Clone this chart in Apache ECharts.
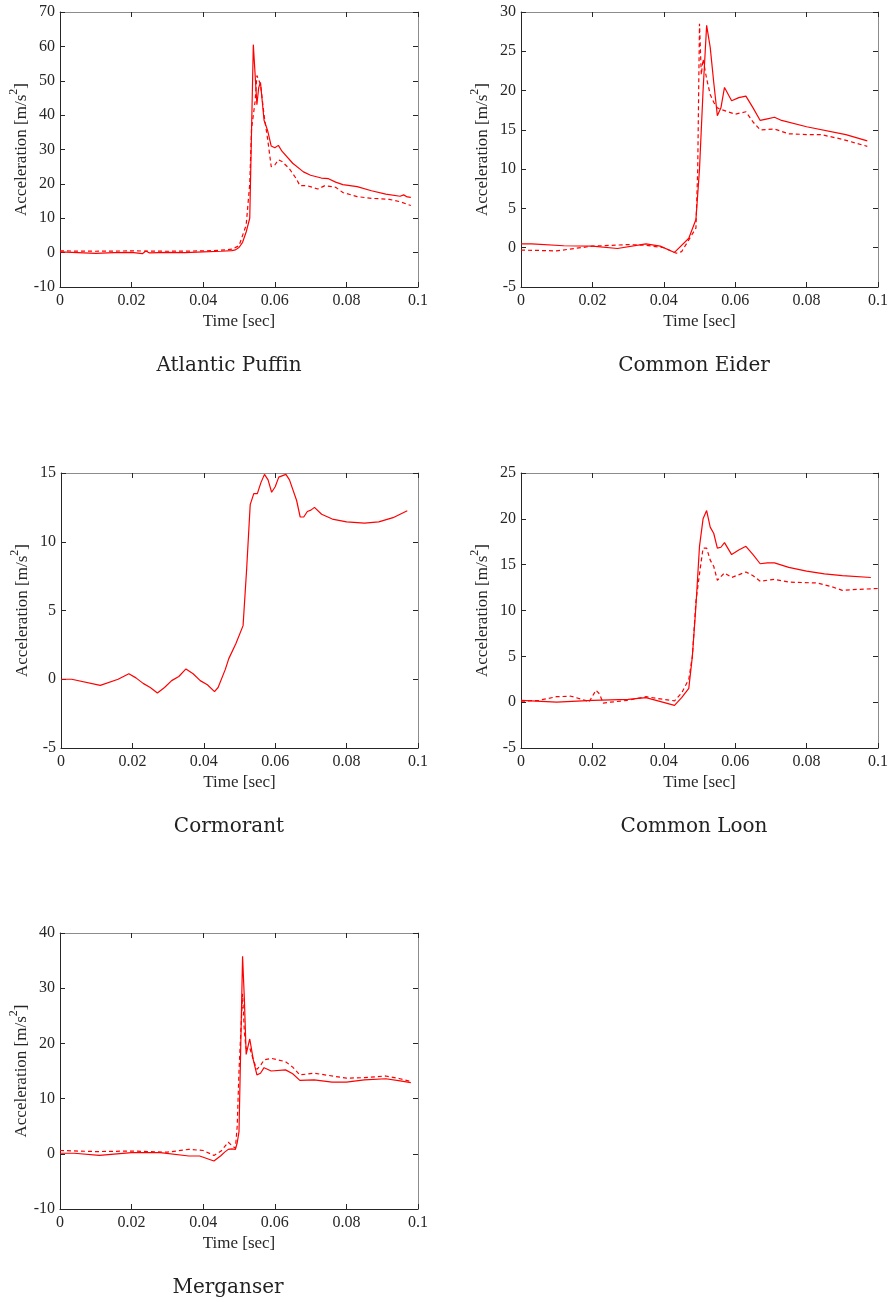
<!DOCTYPE html>
<html><head><meta charset="utf-8">
<script src="https://cdn.jsdelivr.net/npm/echarts@6/dist/echarts.min.js"></script>
<style>html,body{margin:0;padding:0;background:#fff}#c{width:891px;height:1302px}</style>
</head><body><div id="c"></div>
<script>
// ---------- data ----------
const titles = ['Atlantic Puffin', 'Common Eider', 'Cormorant', 'Common Loon', 'Merganser'];
const xTicks = [0, 0.02, 0.04, 0.06, 0.08, 0.1];
const yRanges = [[-10, 70, 10], [-5, 30, 5], [-5, 15, 5], [-5, 25, 5], [-10, 40, 10]];

const puffinSolidT = [0,0.005,0.01,0.015,0.02,0.023,0.024,0.025,0.03,0.035,0.04,0.045,0.048,0.049,0.05,0.051,0.052,0.053,0.054,0.055,0.0555,0.056,0.057,0.058,0.059,0.06,0.061,0.062,0.065,0.068,0.07,0.073,0.075,0.077,0.079,0.083,0.087,0.091,0.095,0.096,0.097,0.098];
const puffinSolidY = [0.2,0.0,-0.2,0.0,0.1,-0.3,0.5,-0.1,0.1,0.0,0.2,0.4,0.6,0.8,1.5,3,6,10,60.5,43,48,49.5,38.5,35.5,31,30.5,31.2,29.5,26,23.5,22.5,21.7,21.5,20.5,19.8,19.2,18,17,16.4,16.8,16.2,16.1];
const puffinDashT = [0,0.01,0.02,0.03,0.04,0.045,0.048,0.05,0.052,0.053,0.0535,0.0545,0.055,0.056,0.057,0.058,0.059,0.06,0.061,0.062,0.064,0.066,0.067,0.069,0.072,0.074,0.077,0.079,0.083,0.087,0.092,0.095,0.098];
const puffinDashY = [0.5,0.4,0.5,0.4,0.5,0.7,1,2,8,20,36,44,51.5,49,40,33,25,25.5,27,26.5,24.5,21.5,19.5,19.5,18.5,19.5,19,17.5,16.3,15.8,15.5,14.8,13.7];

const eiderSolidT = [0,0.003,0.012,0.02,0.027,0.035,0.039,0.043,0.047,0.049,0.05,0.051,0.052,0.053,0.054,0.055,0.056,0.057,0.059,0.061,0.063,0.065,0.067,0.069,0.071,0.073,0.08,0.091,0.097];
const eiderSolidY = [0.5,0.5,0.25,0.2,-0.1,0.5,0.2,-0.6,1.2,3.6,10,20,28.3,25.5,21,16.8,17.8,20.4,18.7,19.1,19.3,17.8,16.2,16.4,16.6,16.2,15.4,14.4,13.6];
const eiderDashT = [0,0.01,0.02,0.03,0.035,0.04,0.0435,0.045,0.047,0.049,0.0495,0.05,0.0505,0.051,0.052,0.053,0.054,0.055,0.056,0.058,0.06,0.063,0.065,0.067,0.071,0.075,0.08,0.084,0.09,0.097];
const eiderDashY = [-0.3,-0.4,0.2,0.4,0.3,0.0,-0.7,-0.5,1.0,2.5,10,28.5,22,24,21.5,19.5,18.5,17.8,17.6,17.3,17.0,17.3,16,15,15.1,14.5,14.4,14.4,13.8,12.9];

const cormorantT = [0,0.003,0.011,0.016,0.019,0.021,0.023,0.025,0.027,0.029,0.031,0.033,0.035,0.037,0.039,0.041,0.043,0.044,0.046,0.047,0.049,0.051,0.052,0.053,0.054,0.055,0.056,0.057,0.058,0.059,0.06,0.061,0.063,0.064,0.066,0.067,0.068,0.069,0.07,0.071,0.073,0.076,0.08,0.085,0.089,0.093,0.097];
const cormorantY = [0,0,-0.45,0,0.4,0.1,-0.3,-0.6,-1.0,-0.6,-0.1,0.2,0.75,0.4,-0.1,-0.4,-0.9,-0.6,0.7,1.5,2.6,3.9,8,12.7,13.5,13.5,14.3,14.9,14.5,13.6,14,14.7,14.9,14.5,13.0,11.8,11.8,12.2,12.3,12.5,12.0,11.65,11.45,11.35,11.45,11.75,12.25];

const loonSolidT = [0,0.01,0.02,0.03,0.035,0.043,0.045,0.047,0.048,0.049,0.05,0.051,0.052,0.053,0.054,0.055,0.056,0.057,0.059,0.061,0.063,0.065,0.067,0.069,0.071,0.075,0.08,0.085,0.09,0.098];
const loonSolidY = [0.2,0.0,0.2,0.3,0.5,-0.35,0.5,1.5,5,10.5,17,20,20.9,19.1,18.4,16.8,16.9,17.4,16.1,16.6,17.0,16.1,15.1,15.2,15.2,14.7,14.3,14.0,13.8,13.6];
const loonDashT = [0,0.005,0.01,0.014,0.018,0.019,0.0195,0.021,0.022,0.023,0.025,0.03,0.035,0.04,0.043,0.045,0.047,0.048,0.049,0.05,0.051,0.052,0.053,0.054,0.055,0.057,0.059,0.063,0.065,0.067,0.071,0.075,0.083,0.087,0.09,0.094,0.1];
const loonDashY = [0.1,0.2,0.6,0.65,0.2,0.0,0.3,1.3,0.9,-0.1,0.0,0.2,0.6,0.3,0.15,1.0,2.5,5,11,14,16.8,16.8,15.5,14.8,13.3,14.1,13.6,14.2,13.8,13.2,13.4,13.1,13.0,12.6,12.2,12.3,12.4];

const merganserSolidT = [0,0.004,0.011,0.02,0.028,0.036,0.039,0.043,0.045,0.046,0.047,0.048,0.049,0.0495,0.05,0.0505,0.051,0.0515,0.052,0.053,0.054,0.055,0.056,0.057,0.059,0.063,0.065,0.067,0.071,0.076,0.08,0.085,0.091,0.095,0.098];
const merganserSolidY = [0.1,0.1,-0.3,0.2,0.2,-0.4,-0.4,-1.3,-0.3,0.3,0.8,0.9,0.8,2,4,20,35.8,28,18,20.8,17,14.3,14.6,15.6,15.0,15.2,14.5,13.3,13.4,13.0,13.0,13.4,13.6,13.2,12.9];
const merganserDashT = [0,0.01,0.02,0.03,0.036,0.04,0.043,0.045,0.047,0.048,0.049,0.0495,0.05,0.051,0.0515,0.052,0.053,0.054,0.055,0.056,0.057,0.059,0.063,0.065,0.067,0.071,0.075,0.08,0.085,0.091,0.095,0.098];
const merganserDashY = [0.6,0.4,0.5,0.3,0.8,0.6,-0.3,0.5,2.1,1.5,1.0,5,15,29,22,19,19.2,17,15.3,16,17.0,17.3,16.7,15.7,14.3,14.6,14.2,13.7,13.8,14.1,13.6,13.1];

// ---------- layout ----------
const grids = [
  {left: 60, top: 12, width: 358, height: 275},
  {left: 521, top: 12, width: 358, height: 275},
  {left: 61, top: 473, width: 357, height: 275},
  {left: 521, top: 473, width: 358, height: 275},
  {left: 60, top: 933, width: 358, height: 276}
];
const titlePos = [[229, 366], [694, 366], [229, 827], [694, 827], [228, 1288]];
const seriesSets = [
  [[puffinSolidT, puffinSolidY, 'solid'], [puffinDashT, puffinDashY, 'dashed']],
  [[eiderSolidT, eiderSolidY, 'solid'], [eiderDashT, eiderDashY, 'dashed']],
  [[cormorantT, cormorantY, 'solid']],
  [[loonSolidT, loonSolidY, 'solid'], [loonDashT, loonDashY, 'dashed']],
  [[merganserSolidT, merganserSolidY, 'solid'], [merganserDashT, merganserDashY, 'dashed']]
];

const FONT = 'Liberation Serif';
const dark = '#262626', light = '#8c8c8c';
const xAxis = [], yAxis = [], series = [], graphic = [];
grids.forEach((g, i) => {
  const [ymin, ymax, yint] = yRanges[i];
  const tickStyle = {show: true, inside: true, length: 5, lineStyle: {color: dark, width: 1}};
  xAxis.push({
    type: 'value', gridIndex: i, min: 0, max: 0.1, interval: 0.02, position: 'bottom',
    axisLine: {show: true, onZero: false, lineStyle: {color: dark, width: 1}},
    axisTick: tickStyle, splitLine: {show: false},
    axisLabel: {color: dark, fontFamily: FONT, fontSize: 16, margin: 6,
      formatter: v => { const m = xTicks.find(t => Math.abs(t - v) < 1e-9); return m === undefined ? '' : String(m); }},
    name: 'Time [sec]', nameLocation: 'middle', nameGap: 26,
    nameTextStyle: {color: dark, fontFamily: FONT, fontSize: 17}
  });
  xAxis.push({
    type: 'value', gridIndex: i, min: 0, max: 0.1, interval: 0.02, position: 'top',
    axisLine: {show: true, onZero: false, lineStyle: {color: light, width: 1}},
    axisTick: tickStyle, axisLabel: {show: false}, splitLine: {show: false}
  });
  yAxis.push({
    type: 'value', gridIndex: i, min: ymin, max: ymax, interval: yint, position: 'left',
    axisLine: {show: true, onZero: false, lineStyle: {color: dark, width: 1}},
    axisTick: tickStyle, splitLine: {show: false},
    axisLabel: {color: dark, fontFamily: FONT, fontSize: 16, margin: 5},
    name: '{a|Acceleration [m/s}{s|2}{a|]}', nameLocation: 'middle', nameGap: 30,
    nameTextStyle: {color: dark, fontFamily: FONT, fontSize: 17,
      rich: {a: {fontFamily: FONT, fontSize: 17, color: dark, lineHeight: 22, verticalAlign: 'bottom'},
             s: {fontFamily: FONT, fontSize: 12, color: dark, lineHeight: 22, verticalAlign: 'top'}}}
  });
  yAxis.push({
    type: 'value', gridIndex: i, min: ymin, max: ymax, interval: yint, position: 'right',
    axisLine: {show: true, onZero: false, lineStyle: {color: light, width: 1}},
    axisTick: tickStyle, axisLabel: {show: false}, splitLine: {show: false}
  });
  seriesSets[i].forEach(([ts, vs, type]) => {
    series.push({
      type: 'line', xAxisIndex: 2 * i, yAxisIndex: 2 * i,
      data: ts.map((t, k) => [t, vs[k]]),
      showSymbol: false, symbol: 'none', silent: true, animation: false,
      lineStyle: {color: '#ff0000', width: 1.2, type: type === 'dashed' ? [4, 3] : 'solid'}
    });
  });
  graphic.push({
    type: 'text', x: titlePos[i][0], y: titlePos[i][1],
    style: {text: titles[i], font: '20px "DejaVu Serif"', fill: '#222', textAlign: 'center', textVerticalAlign: 'middle'}
  });
});

const chart = echarts.init(document.getElementById('c'), null, {renderer: 'canvas'});
chart.setOption({
  backgroundColor: '#fff', animation: false,
  grid: grids.map(g => Object.assign({containLabel: false}, g)),
  xAxis, yAxis, series, graphic
});
</script></body></html>
